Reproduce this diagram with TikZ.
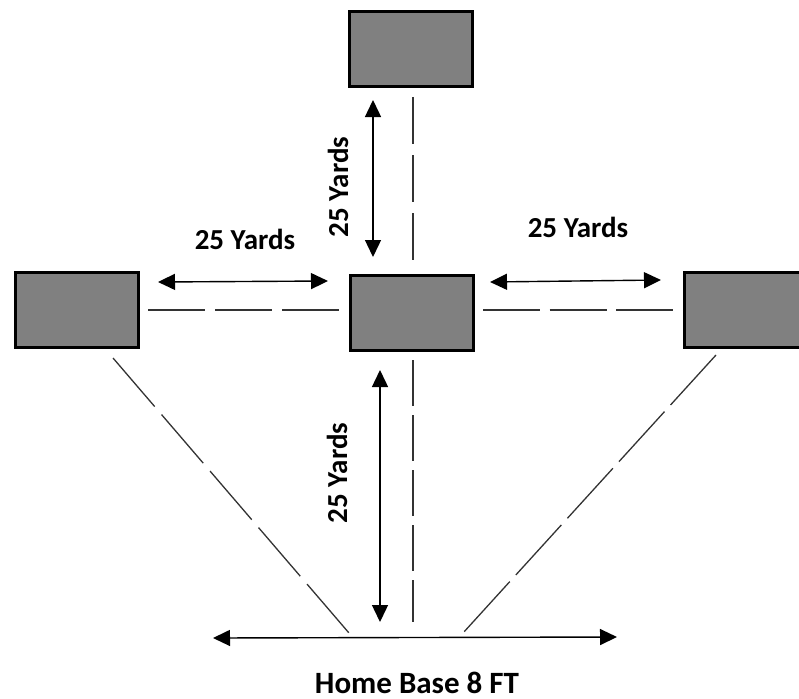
\documentclass[tikz,border=0pt]{standalone}
\usepackage{fontspec}
\setmainfont{Carlito}
\usetikzlibrary{arrows.meta}
\tikzset{
  base/.style={draw=black, fill=black!50, line width=3pt, minimum width=123pt, minimum height=75pt, inner sep=0pt},
  dim/.style={{Triangle[length=17pt,width=16pt]}-{Triangle[length=17pt,width=16pt]}, line width=1.4pt},
  guide/.style={line width=1.3pt, draw=black!80},
  lbl/.style={font=\bfseries\fontsize{29}{31}\selectfont, inner sep=0pt},
  homelbl/.style={font=\bfseries\fontsize{31}{33}\selectfont, inner sep=0pt, text depth=0pt, anchor=base}
}
\begin{document}
\begin{tikzpicture}[x=1pt,y=-1pt]
\useasboundingbox (0,0) rectangle (799,698);
% bases
\node[base] (top) at (411,49) {};
\node[base] (mid) at (411.5,312.5) {};
\node[base] (left) at (76.5,309.5) {};
\node[base] (right) at (745.5,309.5) {};
% endpoints
\coordinate (tvA) at (373,100); \coordinate (tvB) at (373,257);
\coordinate (lhA) at (158,282); \coordinate (lhB) at (328,281);
\coordinate (rhA) at (490,282); \coordinate (rhB) at (661,280);
\coordinate (bvA) at (380,370); \coordinate (bvB) at (380,622);
\coordinate (hbA) at (213,638); \coordinate (hbB) at (617,637);
\coordinate (dvtA) at (413,97); \coordinate (dvtB) at (413,262);
\coordinate (dvbA) at (413,360); \coordinate (dvbB) at (413,622);
\coordinate (dhlA) at (148,310); \coordinate (dhlB) at (341,310);
\coordinate (dhrA) at (483,310); \coordinate (dhrB) at (673,310);
\coordinate (ddlA) at (113,358); \coordinate (ddlB) at (349,633);
\coordinate (ddrA) at (716,355); \coordinate (ddrB) at (463,633);
% dimension arrows
\draw[dim] (tvA) -- (tvB);
\draw[dim] (lhA) -- (lhB);
\draw[dim] (rhA) -- (rhB);
\draw[dim] (bvA) -- (bvB);
\draw[dim] (hbA) -- (hbB);
% guide lines
\draw[guide, dash pattern=on 47pt off 11pt] (dvtA) -- (dvtB);
\draw[guide, dash pattern=on 46pt off 9pt] (dvbA) -- (dvbB);
\draw[guide, dash pattern=on 57pt off 10pt] (dhlA) -- (dhlB);
\draw[guide, dash pattern=on 57pt off 9.5pt] (dhrA) -- (dhrB);
\draw[guide, dash pattern=on 64pt off 10.5pt] (ddlA) -- (ddlB);
\draw[guide, dash pattern=on 67.6pt off 9pt] (ddrA) -- (ddrB);
% labels
\node[lbl] (lblL) at (245,239) {25 Yards};
\node[lbl] (lblR) at (578,227) {25 Yards};
\node[lbl, rotate=90] (lblT) at (338,187) {25 Yards};
\node[lbl, rotate=90] (lblB) at (337,473) {25 Yards};
\node[homelbl] (home) at (417,693) {Home Base 8 FT};
\end{tikzpicture}
\end{document}
